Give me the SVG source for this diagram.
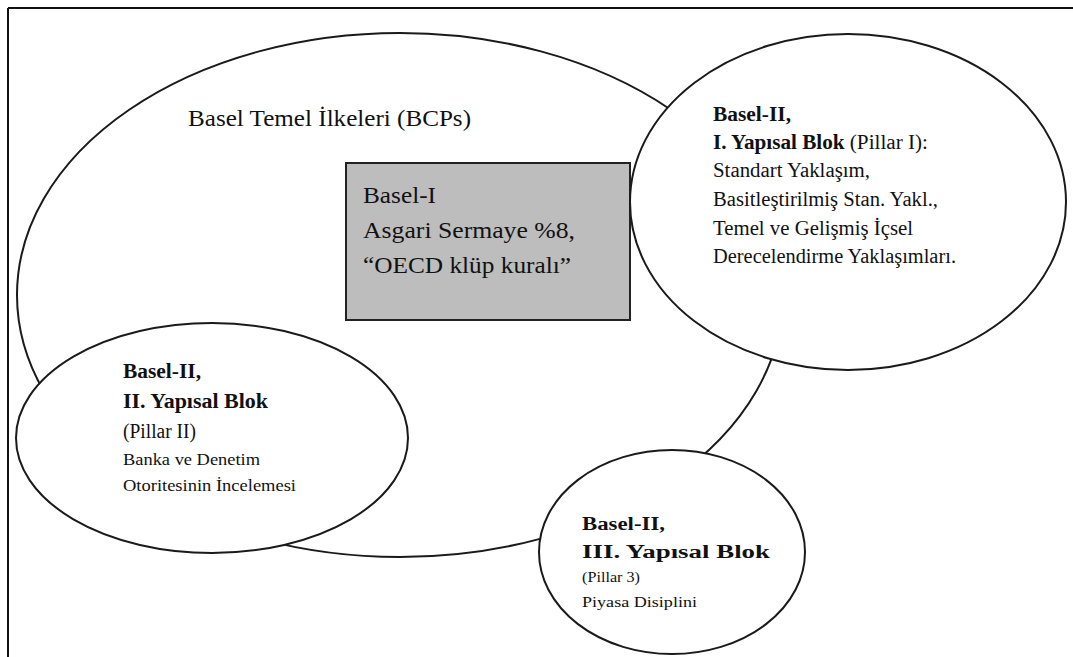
<svg xmlns="http://www.w3.org/2000/svg" width="1073" height="657" viewBox="0 0 1073 657">
<style>
.shape{fill:#fff;stroke:#1a1a1a;stroke-width:2}
.box{fill:#bdbdbd;stroke:#222;stroke-width:2}
text{font-family:"Liberation Serif","DejaVu Serif",serif;fill:#111}
.b{font-weight:bold}
</style>
<rect width="1073" height="657" fill="#fff"/>
<g id="frame" stroke="#111" stroke-width="2" fill="none">
<line x1="8" y1="8" x2="1073" y2="8"/>
<line x1="8" y1="8" x2="8" y2="657"/>
</g>
<g id="connectors"></g>
<g id="bcp">
<ellipse class="shape" cx="400" cy="295" rx="383" ry="262"/>
<text x="188" y="126" font-size="24" textLength="283" lengthAdjust="spacingAndGlyphs">Basel Temel İlkeleri (BCPs)</text>
</g>
<g id="basel1">
<rect class="box" x="346" y="163" width="284" height="157"/>
<text font-size="24"><tspan x="363" y="203" textLength="73" lengthAdjust="spacingAndGlyphs">Basel-I</tspan><tspan x="363" y="238" textLength="212" lengthAdjust="spacingAndGlyphs">Asgari Sermaye %8,</tspan><tspan x="363" y="273" textLength="208" lengthAdjust="spacingAndGlyphs">“OECD klüp kuralı”</tspan></text>
</g>
<g id="pillar1">
<ellipse class="shape" cx="848" cy="202" rx="218" ry="168"/>
<text font-size="20"><tspan class="b" x="713" y="121" textLength="78" lengthAdjust="spacingAndGlyphs">Basel-II,</tspan><tspan x="713" y="149" textLength="215" lengthAdjust="spacingAndGlyphs"><tspan class="b">I. Yapısal Blok</tspan> (Pillar I):</tspan><tspan x="713" y="177" textLength="157" lengthAdjust="spacingAndGlyphs">Standart Yaklaşım,</tspan><tspan x="713" y="206" textLength="225" lengthAdjust="spacingAndGlyphs">Basitleştirilmiş Stan. Yakl.,</tspan><tspan x="713" y="235" textLength="200" lengthAdjust="spacingAndGlyphs">Temel ve Gelişmiş İçsel</tspan><tspan x="713" y="263" textLength="243" lengthAdjust="spacingAndGlyphs">Derecelendirme Yaklaşımları.</tspan></text>
</g>
<g id="pillar2">
<ellipse class="shape" cx="212" cy="438" rx="196" ry="115"/>
<text font-size="20"><tspan class="b" x="123" y="378" textLength="78" lengthAdjust="spacingAndGlyphs">Basel-II,</tspan><tspan class="b" x="123" y="408" textLength="145" lengthAdjust="spacingAndGlyphs">II. Yapısal Blok</tspan><tspan x="123" y="438" textLength="73" lengthAdjust="spacingAndGlyphs">(Pillar II)</tspan></text>
<text font-size="16"><tspan x="123" y="465" textLength="137" lengthAdjust="spacingAndGlyphs">Banka ve Denetim</tspan><tspan x="123" y="491" textLength="173" lengthAdjust="spacingAndGlyphs">Otoritesinin İncelemesi</tspan></text>
</g>
<g id="pillar3">
<ellipse class="shape" cx="672" cy="552" rx="133" ry="102"/>
<text font-size="18"><tspan class="b" x="582" y="530" textLength="83" lengthAdjust="spacingAndGlyphs">Basel-II,</tspan><tspan class="b" x="582" y="558" textLength="188" lengthAdjust="spacingAndGlyphs">III. Yapısal Blok</tspan></text>
<text font-size="15"><tspan x="582" y="582" textLength="58" lengthAdjust="spacingAndGlyphs">(Pillar 3)</tspan><tspan x="582" y="607" textLength="115" lengthAdjust="spacingAndGlyphs">Piyasa Disiplini</tspan></text>
</g>
</svg>
